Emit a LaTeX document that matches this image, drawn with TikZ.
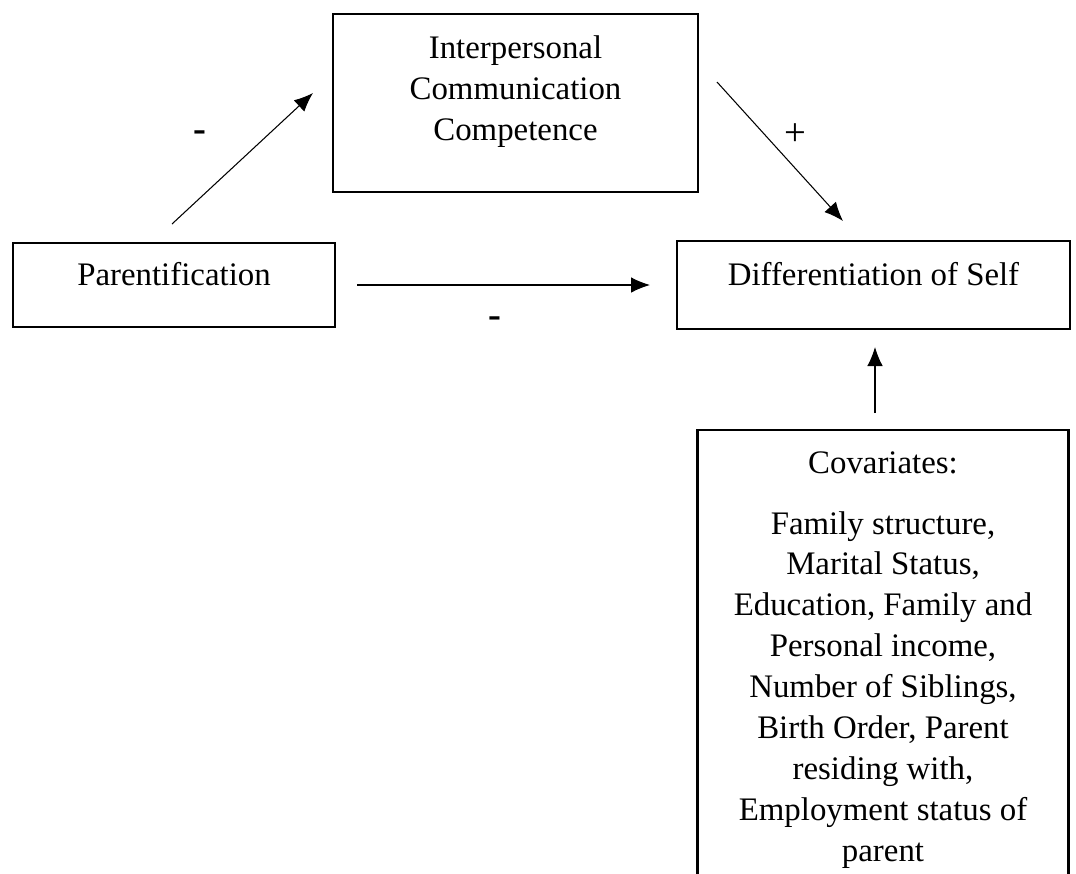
\documentclass[tikz,border=0pt]{standalone}
\usepackage{fontspec}
\setmainfont{Liberation Serif}
\usetikzlibrary{arrows.meta}

\tikzset{
    box/.style={draw, line width=1.5pt, inner sep=0pt},
    txt/.style={inner sep=0pt, align=center, font=\fontsize{18.7pt}{23.3pt}\selectfont},
    sign/.style={inner sep=0pt, font=\fontsize{22pt}{26pt}\selectfont},
    link/.style={->, line width=0.6pt}
}

\begin{document}
\begin{tikzpicture}[x=0.02cm, y=-0.02cm, >={Latex[length=3.8mm,width=3.1mm]}]
    % 1. Vùng hiển thị
    \useasboundingbox (0,0) rectangle (1076,873);

    % 2. Các khung
    \node[box, minimum width=6.44cm, minimum height=1.68cm] (par) at (174,285) {};
    \node[box, minimum width=7.3cm, minimum height=3.56cm] (icc) at (515.5,103) {};
    \node[box, minimum width=7.86cm, minimum height=1.76cm] (diff) at (873.5,285) {};
    \node[minimum width=7.4cm, minimum height=8.86cm, inner sep=0pt, anchor=north] (cov) at (883,430) {};
    \draw[line width=1.5pt] (cov.south west) |- (cov.north east) -- (cov.south east);

    % 3. Chữ trong khung
    \node[txt, anchor=north] (icctxt) at (515.5,35) {Interpersonal\\ Communication\\ Competence};
    \node[txt, anchor=base] (partxt) at (174,285) {Parentification};
    \node[txt, anchor=base] (difftxt) at (873.5,285) {Differentiation of Self};
    \node[txt, anchor=north] (covtxt) at (883,451) {Covariates:\\[0.4cm]
        Family structure,\\ Marital Status,\\ Education, Family and\\
        Personal income,\\ Number of Siblings,\\ Birth Order, Parent\\
        residing with,\\ Employment status of\\ parent};

    % 4. Các mũi tên
    \coordinate (a1s) at (172,224);
    \coordinate (a1e) at (313,93);
    \coordinate (a2s) at (717,82);
    \coordinate (a2e) at (843,221);
    \coordinate (a3s) at (357,285);
    \coordinate (a3e) at (650,285);
    \coordinate (a4s) at (875,413);
    \coordinate (a4e) at (875,347);
    \draw[link] (a1s) -- (a1e);
    \draw[link] (a2s) -- (a2e);
    \draw[link] (a3s) -- (a3e);
    \draw[link] (a4s) -- (a4e);

    % 5. Dấu
    \node[sign] (s1) at (200,136) {\textbf{-}};
    \node[sign] (s2) at (795,135) {+};
    \node[sign] (s3) at (495,322) {\textbf{-}};
\end{tikzpicture}
\end{document}
